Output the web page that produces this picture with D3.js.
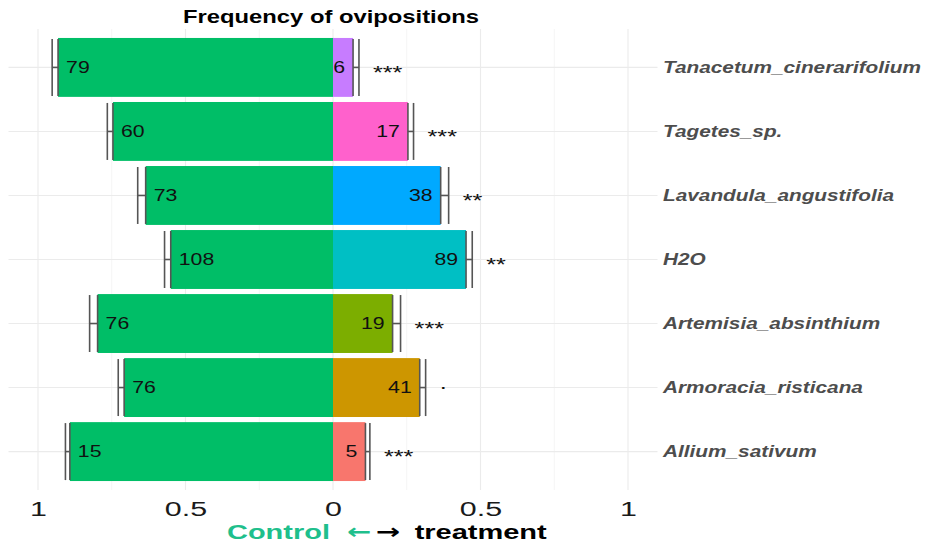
<!DOCTYPE html>
<html>
<head>
<meta charset="utf-8">
<script src="https://cdn.jsdelivr.net/npm/d3@7"></script>
<style>
  html, body { margin: 0; padding: 0; background: #ffffff; }
  svg { display: block; font-family: "Liberation Sans", Arial, sans-serif; }
</style>
</head>
<body>
<script>
// ---- data ----
const categories = ["Tanacetum_cinerarifolium", "Tagetes_sp.", "Lavandula_angustifolia", "H2O",
                    "Artemisia_absinthium", "Armoracia_risticana", "Allium_sativum"];
const controlCounts   = [79, 60, 73, 108, 76, 76, 15];
const treatmentCounts = [6, 17, 38, 89, 19, 41, 5];
const controlProp     = [0.932, 0.746, 0.635, 0.550, 0.798, 0.708, 0.892];
const treatmentProp   = [0.068, 0.254, 0.365, 0.451, 0.202, 0.294, 0.110];
const stdErr          = [0.020, 0.019, 0.027, 0.021, 0.027, 0.020, 0.015];
const signif          = ["***", "***", "**", "**", "***", ".", "***"];
const treatmentColors = ["#C77CFF", "#FF61CC", "#00A9FF", "#00BFC4", "#7CAE00", "#CD9600", "#F8766D"];
const controlColor    = "#00BE67";
const tickValues      = [-1, -0.5, 0, 0.5, 1];
const tickLabels      = ["1", "0.5", "0", "0.5", "1"];
const minorTicks      = [-0.75, -0.25, 0.25, 0.75];
const titleText       = "Frequency of ovipositions";
const xTitleParts     = ["Control", "\u2190", "\u2192", "treatment"];

// ---- layout ----
const W = 925, H = 545;
const panel = { left: 8.5, right: 657.5, top: 29, bottom: 490 };
const SX = 1.33; // horizontal stretch of the reference text

const svg = d3.select("body").append("svg").attr("width", W).attr("height", H);

const x = d3.scaleLinear().domain([-1.1, 1.1]).range([panel.left, panel.right]);
const y = d3.scalePoint().domain(categories).range([panel.top, panel.bottom]).padding(0.6);
const step = y.step();
const barH = step * 0.92;
const capH = step * 0.89;

// grid
const grid = svg.append("g");
grid.selectAll(".minor").data(minorTicks).join("line")
  .attr("x1", d => x(d)).attr("x2", d => x(d))
  .attr("y1", panel.top).attr("y2", panel.bottom)
  .attr("stroke", "#F3F3F3").attr("stroke-width", 0.8);
grid.selectAll(".major").data(tickValues).join("line")
  .attr("x1", d => x(d)).attr("x2", d => x(d))
  .attr("y1", panel.top).attr("y2", panel.bottom)
  .attr("stroke", "#EBEBEB").attr("stroke-width", 1.1);
grid.selectAll(".hgrid").data(categories).join("line")
  .attr("x1", panel.left).attr("x2", panel.right)
  .attr("y1", d => y(d)).attr("y2", d => y(d))
  .attr("stroke", "#EBEBEB").attr("stroke-width", 1.1);

const rows = categories.map((c, i) => ({
  cat: c, cc: controlCounts[i], tc: treatmentCounts[i],
  cp: controlProp[i], tp: treatmentProp[i], se: stdErr[i],
  sig: signif[i], col: treatmentColors[i]
}));

// bars
svg.append("g").selectAll("rect").data(rows).join("rect")
  .attr("x", d => x(-d.cp)).attr("width", d => x(0) - x(-d.cp))
  .attr("y", d => y(d.cat) - barH / 2).attr("height", barH)
  .attr("fill", controlColor);
svg.append("g").selectAll("rect").data(rows).join("rect")
  .attr("x", x(0)).attr("width", d => x(d.tp) - x(0))
  .attr("y", d => y(d.cat) - barH / 2).attr("height", barH)
  .attr("fill", d => d.col);

// error bars
const eb = svg.append("g").attr("stroke", "#555555").attr("stroke-width", 1.6).attr("fill", "none");
rows.forEach(d => {
  const cy = y(d.cat);
  [[x(-d.cp), x(-d.cp - d.se)], [x(d.tp), x(d.tp + d.se)]].forEach(([a, b]) => {
    eb.append("line").attr("x1", a).attr("x2", a).attr("y1", cy - capH / 2).attr("y2", cy + capH / 2);
    eb.append("line").attr("x1", b).attr("x2", b).attr("y1", cy - capH / 2).attr("y2", cy + capH / 2);
    eb.append("line").attr("x1", a).attr("x2", b).attr("y1", cy).attr("y2", cy);
  });
});

// count labels
const lblSize = 16;
svg.append("g").selectAll("text").data(rows).join("text")
  .attr("transform", d => `translate(${x(-d.cp) + 8},${y(d.cat) + lblSize * 0.36}) scale(${SX},1)`)
  .attr("text-anchor", "start").attr("font-size", lblSize).attr("fill", "#111")
  .text(d => d.cc);
svg.append("g").selectAll("text").data(rows).join("text")
  .attr("transform", d => `translate(${x(d.tp) - 8},${y(d.cat) + lblSize * 0.36}) scale(${SX},1)`)
  .attr("text-anchor", "end").attr("font-size", lblSize).attr("fill", "#111")
  .text(d => d.tc);

// significance labels
const sigSize = 19;
svg.append("g").selectAll("text").data(rows).join("text")
  .attr("transform", d => {
    const off = d.sig.includes("*") ? sigSize * 0.575 : sigSize * 0.06;
    return `translate(${x(d.tp + d.se) + 14},${y(d.cat) + 0.5 + off}) scale(${SX},1)`;
  })
  .attr("text-anchor", "start").attr("font-size", sigSize).attr("fill", "#111")
  .text(d => d.sig);

// category labels on the right
const catSize = 16;
svg.append("g").selectAll("text").data(rows).join("text")
  .attr("transform", d => `translate(663,${y(d.cat) + catSize * 0.36}) scale(1.3,1)`)
  .attr("text-anchor", "start").attr("font-size", catSize)
  .attr("font-weight", "bold").attr("font-style", "italic").attr("fill", "#4D4D4D")
  .text(d => d.cat);

// x axis
const axis = d3.axisBottom(x).tickValues(tickValues)
  .tickFormat((d, i) => tickLabels[i]).tickSize(0);
const ax = svg.append("g").attr("transform", `translate(0,${panel.bottom})`).call(axis);
ax.select(".domain").remove();
ax.selectAll("text")
  .attr("y", null).attr("dy", null)
  .attr("transform", "translate(0,26) scale(1.45,1)")
  .attr("font-size", 21).attr("fill", "#1A1A1A")
  .attr("font-family", "'Liberation Sans', Arial, sans-serif");

// x axis title
const xt = svg.append("text")
  .attr("transform", "translate(227,539) scale(1.38,1)")
  .attr("font-size", 21).attr("font-weight", "bold");
xt.append("tspan").attr("x", 0).attr("fill", "#1FBF8C").text(xTitleParts[0]);
xt.append("tspan").attr("x", 87).attr("fill", "#1FBF8C").attr("font-family", "'DejaVu Sans', sans-serif")
  .text(xTitleParts[1]);
xt.append("tspan").attr("x", 108).attr("fill", "#000").attr("font-family", "'DejaVu Sans', sans-serif")
  .text(xTitleParts[2]);
xt.append("tspan").attr("x", 136).attr("fill", "#000").text(xTitleParts[3]);

// title
svg.append("text")
  .attr("transform", "translate(331,23) scale(1.36,1)")
  .attr("text-anchor", "middle").attr("font-size", 17.5).attr("font-weight", "bold").attr("fill", "#000")
  .text(titleText);
</script>
</body>
</html>
